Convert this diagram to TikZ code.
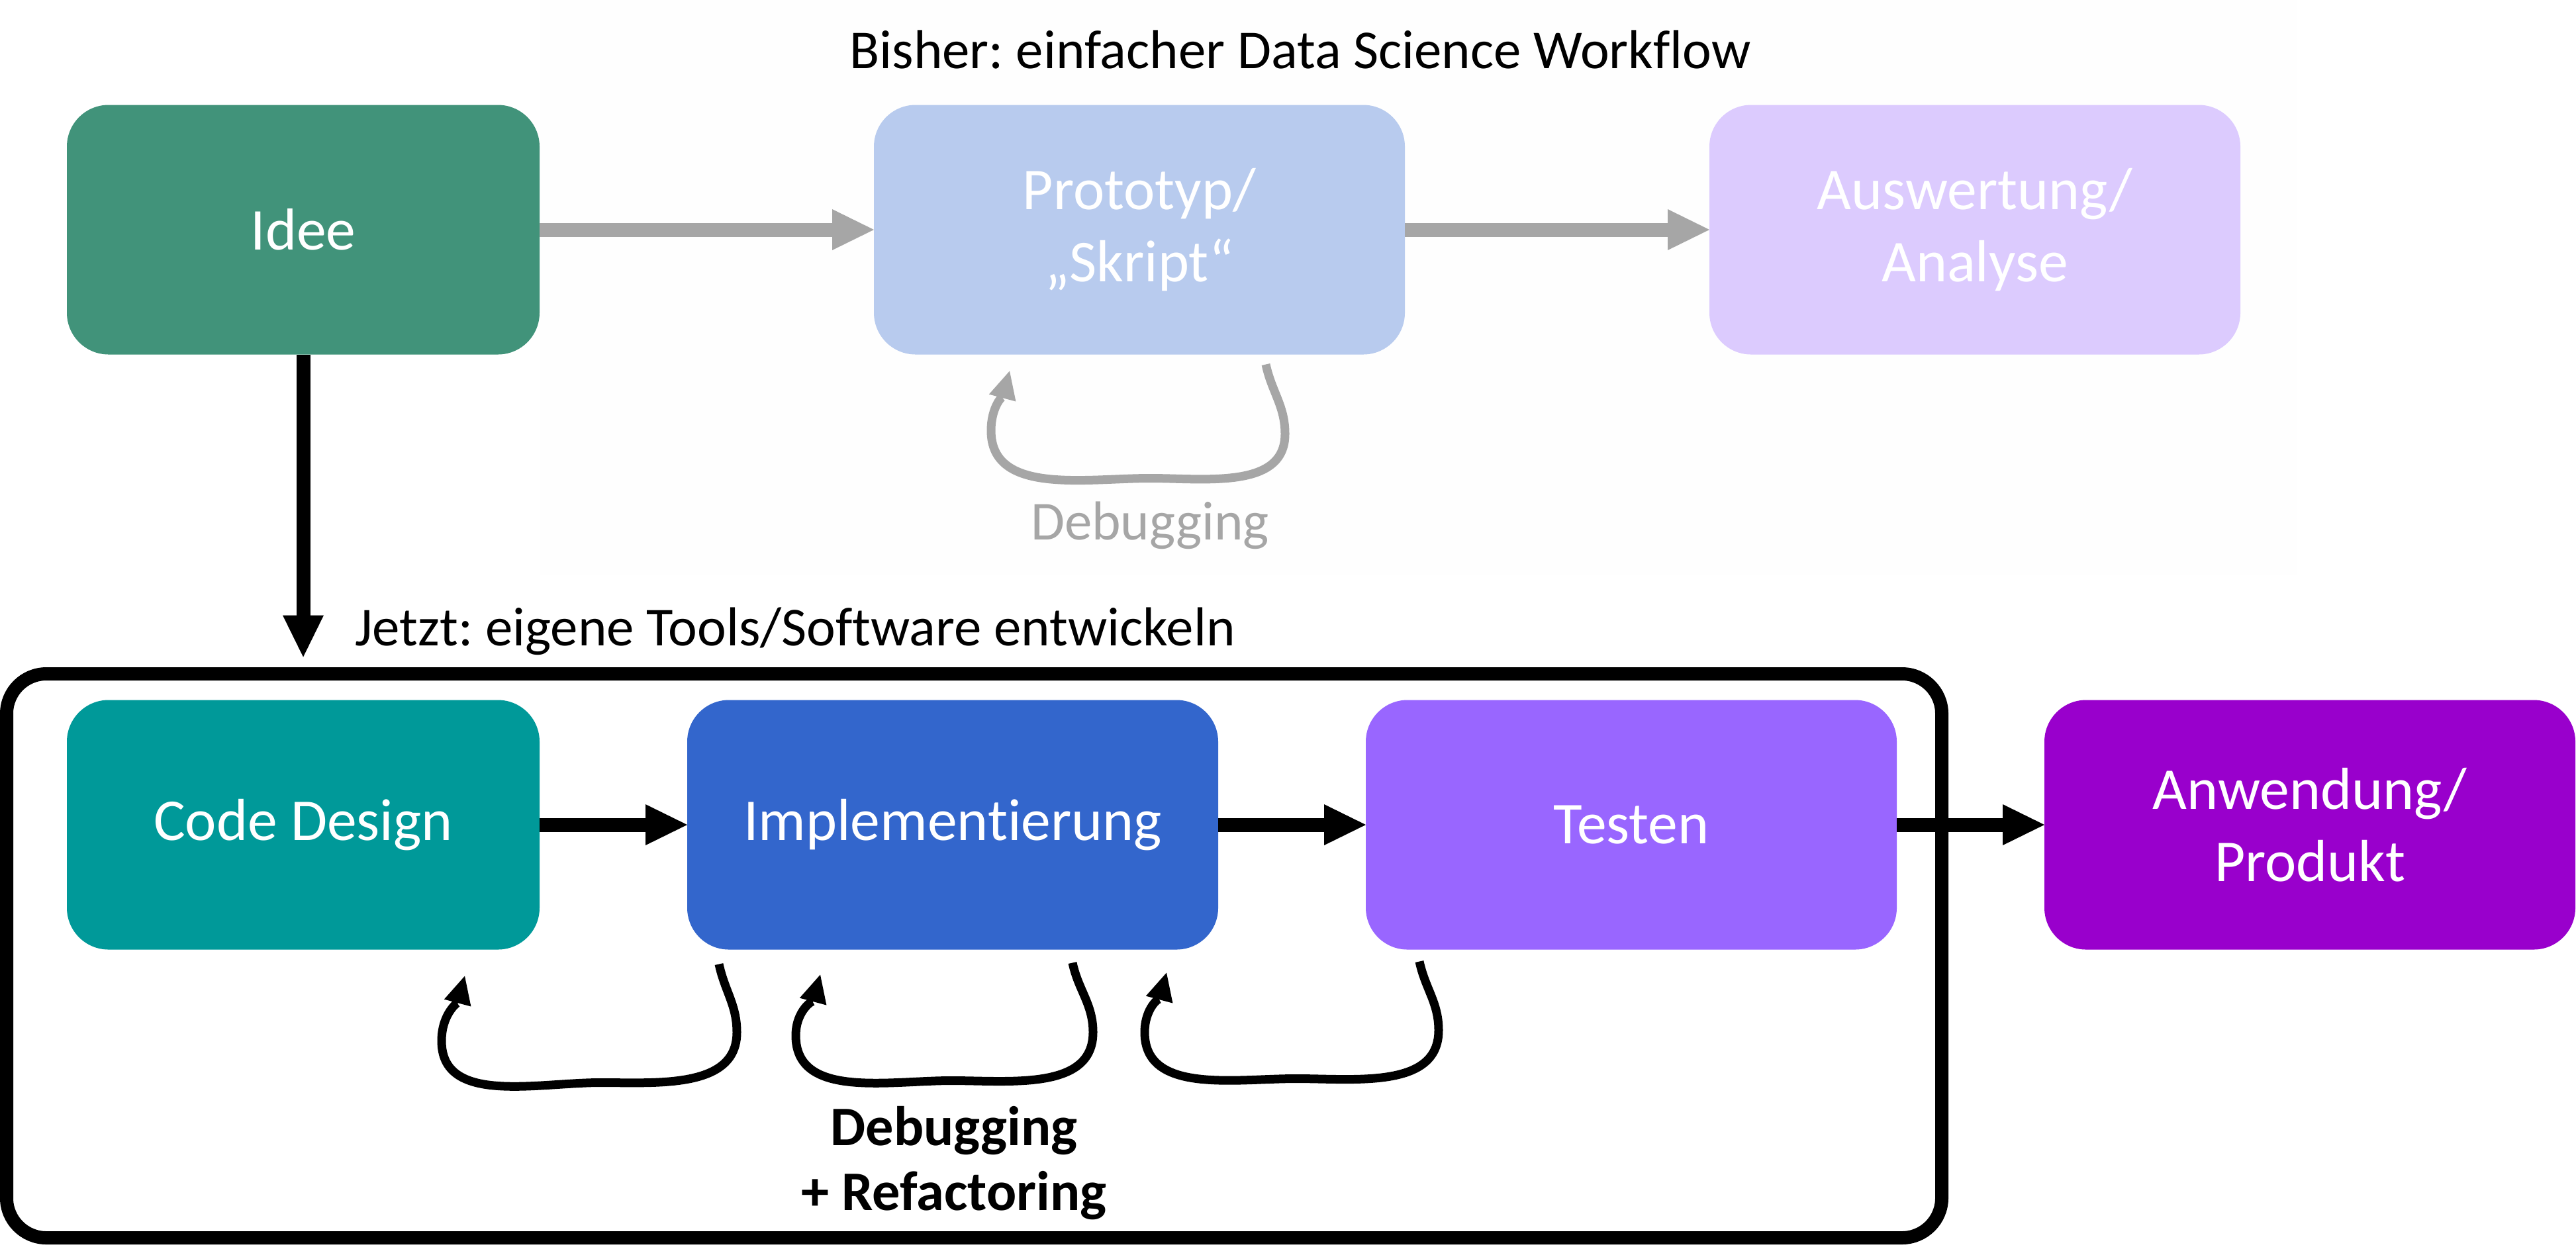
\documentclass[tikz,border=0pt]{standalone}
\usepackage{fontspec}
\setmainfont[Ligatures=NoCommon]{Carlito}
\usepackage{tikz}
\usetikzlibrary{positioning,arrows.meta}
\frenchspacing

\definecolor{ideegreen}{HTML}{41937A}
\definecolor{protoblue}{HTML}{B8CBEE}
\definecolor{auswlilac}{HTML}{DCCBFE}
\definecolor{designteal}{HTML}{009999}
\definecolor{implblue}{HTML}{3366CC}
\definecolor{testviolet}{HTML}{9966FF}
\definecolor{prodpurple}{HTML}{9900CC}
\definecolor{oldgray}{HTML}{A6A6A6}

\begin{document}
\begin{tikzpicture}[%
			font=\fontsize{23.6pt}{28pt}\selectfont,
			->,
			>={Triangle[length=0.63cm,width=0.62cm,line width=0pt]},
			node distance=2.23cm,
			stage/.style={%
				rounded corners=0.63cm,
				minimum width=8.02cm,
				minimum height=3.77cm,
				inner sep=0pt,
				outer sep=0pt,
				text=white,
				align=center,
				font=\fontsize{25.5pt}{31pt}\selectfont
			},
			narrow/.style={minimum width=7.14cm},
			flow/.style={line width=0.21cm},
			backloop/.style={%
				line width=0.13cm,
				-{Triangle[length=0.42cm,width=0.42cm,line width=0pt]}
			}
			]
			\useasboundingbox (0,0) rectangle (38.91,-19.01);
			\fill[gray!1] (8.15,0) rectangle (34.69,-8.68);

			% bisher
			\node[stage,narrow,fill=ideegreen] (1) at (4.58,-3.47) {Idee};
			\node[stage,fill=protoblue] (2) [right=5.05cm of 1] {Prototyp/\\„Skript“};
			\node[stage,fill=auswlilac] (3) [right=4.60cm of 2] {Auswertung/\\Analyse};
			\node[anchor=base] (bisher) at (19.64,-1.03) {Bisher: einfacher Data Science Workflow};

			% jetzt
			\node[stage,narrow,fill=designteal] (4) [below=5.22cm of 1] {Code Design};
			\node[stage,fill=implblue] (5) [right=of 4] {Implementierung};
			\node[stage,fill=testviolet] (6) [right=of 5] {Testen};
			\node[stage,fill=prodpurple] (7) [right=of 6] {Anwendung/\\Produkt};
			\coordinate (down) at ([yshift=-4.57cm]1.south);
			\node[anchor=base west] (jetzt) at (5.24,-9.75) {Jetzt: eigene Tools/Software entwickeln};

			\draw[-,line width=0.2cm,rounded corners=0.6cm] (0.10,-10.18) rectangle (29.33,-18.70);

			\path[flow,oldgray] (1) edge (2)
			(2) edge (3);
			\draw[flow] (1) -- (down);
			\path[flow] (4) edge (5)
			(5) edge (6)
			(6) edge (7);

			\draw[backloop,oldgray] ([shift={(-2.10,-0.15)}]2.south east) to[out=-78,in=90] ++(0.29,-1.05)
			to[out=-90,in=0] ++(-2.04,-0.67) to[out=180,in=-90] ++(-2.40,0.72)
			to[out=90,in=-105] ([shift={(2.05,-0.25)}]2.south west);
			\node[oldgray,anchor=base] (dbg) at (17.37,-8.15) {Debugging};

			\draw[backloop] ([shift={(0.48,-0.22)}]5.south west) to[out=-78,in=90] ++(0.27,-1.03)
			to[out=-90,in=0] ++(-2.06,-0.76) to[out=180,in=-90] ++(-2.40,0.63)
			to[out=90,in=-105] ([shift={(-1.13,-0.40)}]4.south east);
			\draw[backloop] ([shift={(-2.20,-0.20)}]5.south east) to[out=-78,in=90] ++(0.31,-1.05)
			to[out=-90,in=0] ++(-2.14,-0.73) to[out=180,in=-90] ++(-2.35,0.68)
			to[out=90,in=-105] ([shift={(2.01,-0.38)}]5.south west);
			\draw[backloop] ([shift={(0.81,-0.18)}]6.south west) to[out=-78,in=90] ++(0.29,-1.04)
			to[out=-90,in=0] ++(-2.15,-0.73) to[out=180,in=-90] ++(-2.29,0.70)
			to[out=90,in=-105] ([shift={(-0.78,-0.35)}]5.south east);
			\node[align=center,font=\bfseries\fontsize{24pt}{28pt}\selectfont] (dbgref) at (14.41,-17.57) {Debugging\\+ Refactoring};
\end{tikzpicture}
\end{document}
